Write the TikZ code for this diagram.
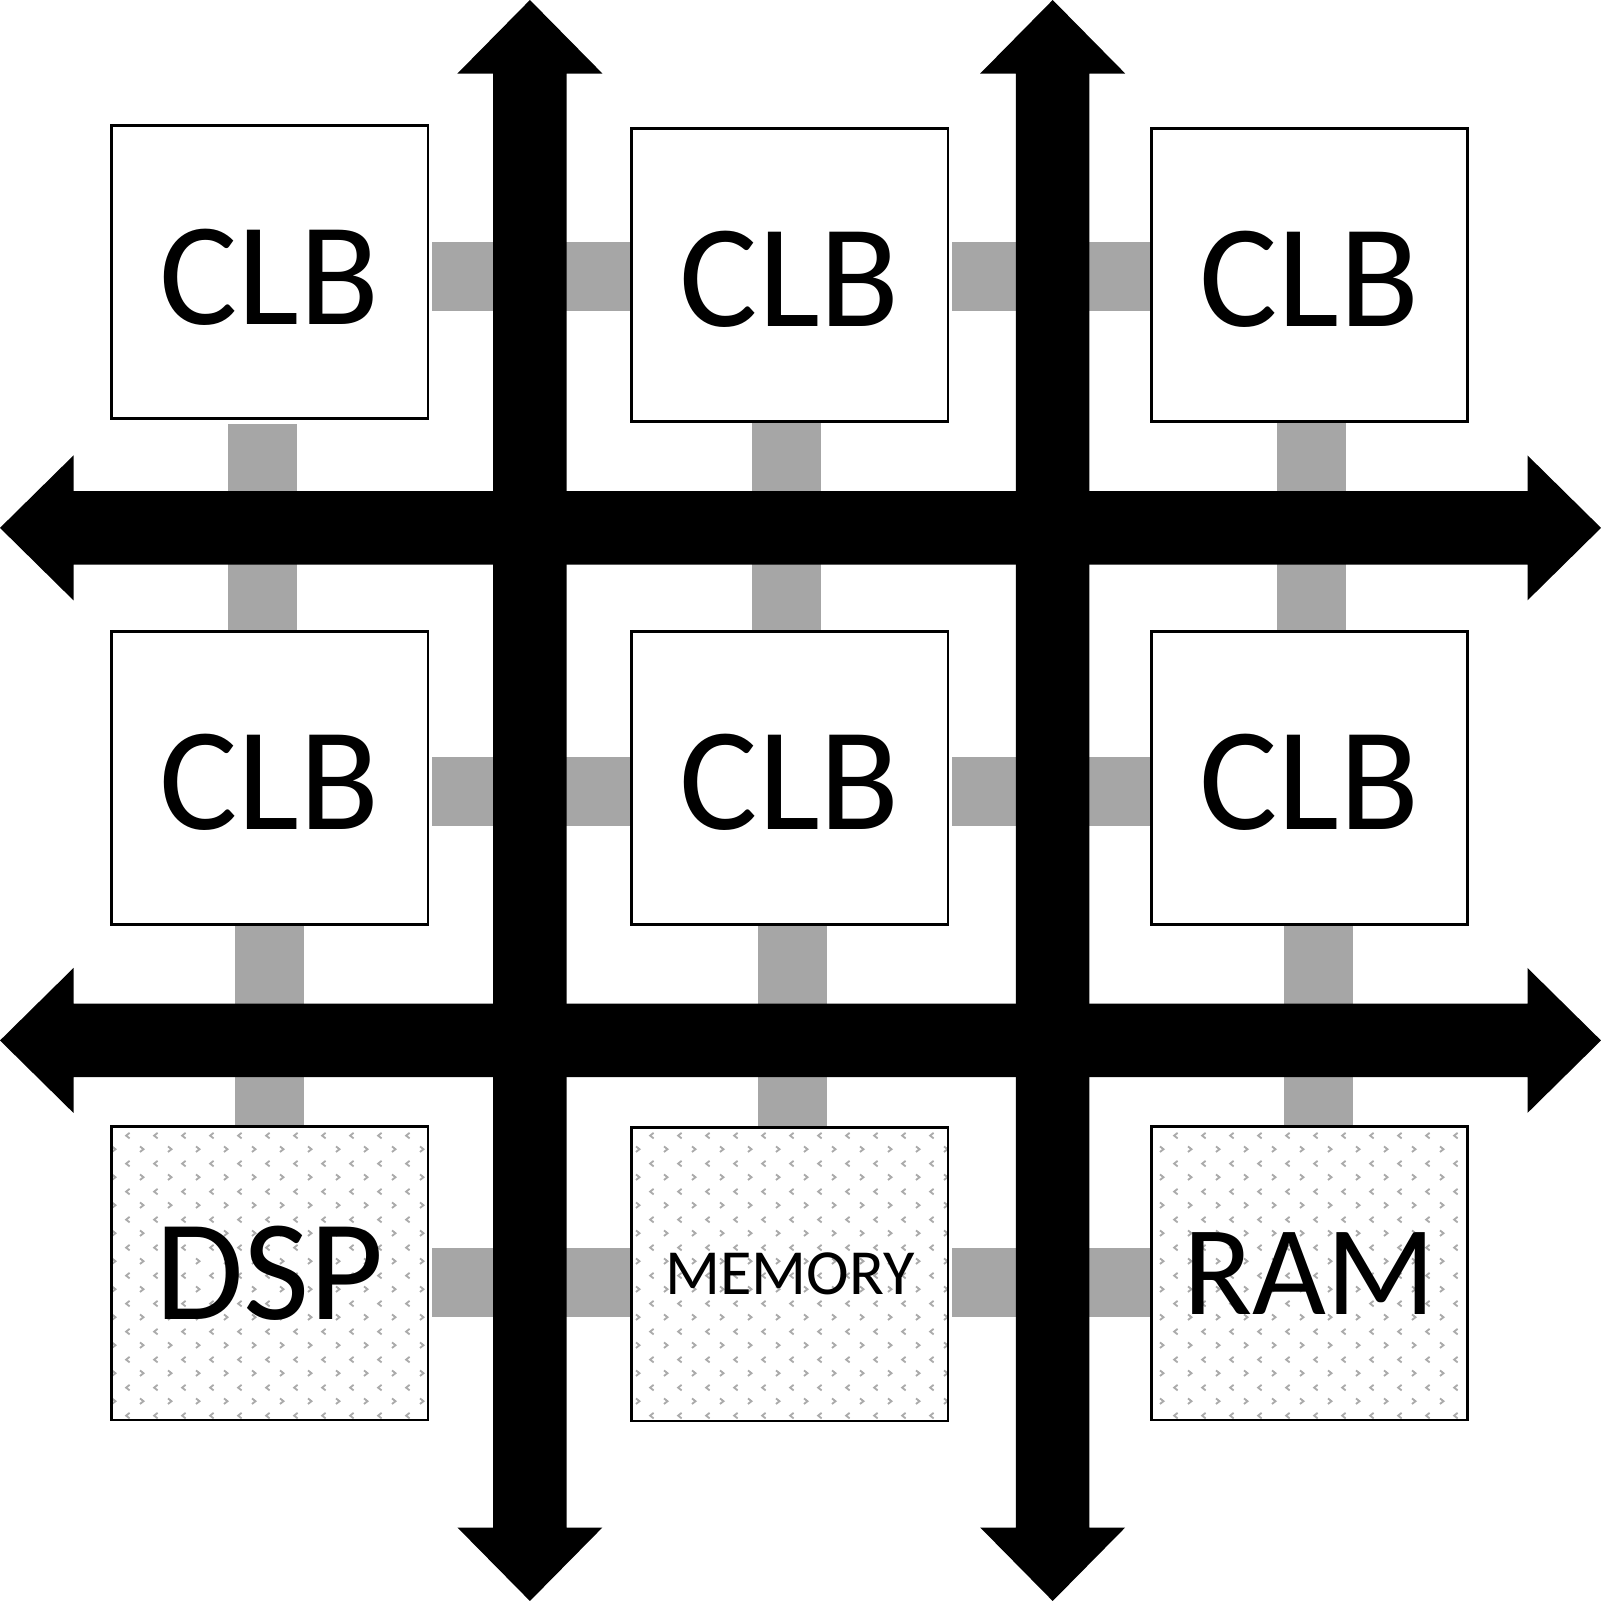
\documentclass[tikz,border=0pt]{standalone}
\usepackage{fontspec}
\setmainfont{Carlito}
\usetikzlibrary{patterns,calc}
\definecolor{busgray}{HTML}{A6A6A6}
\definecolor{patgray}{HTML}{ABABAB}
\pgfdeclarepatternformonly{chevrons}{\pgfpointorigin}{\pgfpoint{27pt}{27pt}}{\pgfpoint{27pt}{27pt}}{%
  \pgfsetlinewidth{1.8pt}%
  \pgfpathmoveto{\pgfpoint{19.5pt}{23pt}}\pgfpathlineto{\pgfpoint{16pt}{20.25pt}}\pgfpathlineto{\pgfpoint{19.5pt}{17.5pt}}%
  \pgfpathmoveto{\pgfpoint{2pt}{9.5pt}}\pgfpathlineto{\pgfpoint{5.5pt}{6.75pt}}\pgfpathlineto{\pgfpoint{2pt}{4pt}}%
  \pgfusepath{stroke}%
}
\pgfdeclarelayer{bg}
\pgfsetlayers{bg,main}
\newcommand\lowtext[2]{\raisebox{-#1}[\height][\depth]{#2}}
\tikzset{
  blk/.style={draw, line width=2.5pt, fill=white, minimum width=310pt, minimum height=287pt, inner sep=0pt},
  clb/.style={blk, font=\fontsize{144}{144}\selectfont},
  special/.style={blk, preaction={fill=white}, pattern=chevrons, pattern color=patgray},
  bus/.style={draw=busgray, line width=67.5pt},
  bigarrow/.style={fill=black, draw=none}
}
\begin{document}
\begin{tikzpicture}[x=1pt,y=-1pt]
\useasboundingbox (0,0) rectangle (1568,1568);
% blocks
\node[clb] (c1) at (264,266.5) {\lowtext{5pt}{CLB}};
\node[clb] (c2) at (773.5,269.5) {\lowtext{4pt}{CLB}};
\node[clb] (c3) at (1282.5,269.5) {\lowtext{4pt}{CLB}};
\node[clb] (c4) at (264,762) {\lowtext{4pt}{CLB}};
\node[clb] (c5) at (773.5,762) {\lowtext{4pt}{CLB}};
\node[clb] (c6) at (1282.5,762) {\lowtext{4pt}{CLB}};
\node[special, font=\fontsize{141}{141}\selectfont] (c7) at (264,1247) {DSP};
\node[special, font=\fontsize{63}{63}\selectfont] (c8) at (773.5,1248) {MEMORY};
\node[special, font=\fontsize{125}{125}\selectfont] (c9) at (1282.5,1247) {RAM};
\begin{pgfonlayer}{bg}
% horizontal gray links
\draw[bus] ($(c1.east)+(3,4)$) -- ($(c2.west)+(0,1)$);
\draw[bus] ($(c2.east)+(3,1)$) -- ($(c3.west)+(0,1)$);
\draw[bus] ($(c4.east)+(3,13.5)$) -- ($(c5.west)+(0,13.5)$);
\draw[bus] ($(c5.east)+(3,13.5)$) -- ($(c6.west)+(0,13.5)$);
\draw[bus] ($(c7.east)+(3,9)$) -- ($(c8.west)+(0,8)$);
\draw[bus] ($(c8.east)+(3,8)$) -- ($(c9.west)+(0,9)$);
% vertical gray links
\draw[bus] ($(c1.south)+(-7,4)$) -- ($(c4.north)+(-7,0)$);
\draw[bus] ($(c2.south)+(-3.5,0)$) -- ($(c5.north)+(-3.5,0)$);
\draw[bus] ($(c3.south)+(1.5,0)$) -- ($(c6.north)+(1.5,0)$);
\draw[bus] ($(c4.south)+(-0.5,0)$) -- ($(c7.north)+(-0.5,0)$);
\draw[bus] ($(c5.south)+(2.5,0)$) -- ($(c8.north)+(2.5,0)$);
\draw[bus] ($(c6.south)+(8.5,0)$) -- ($(c9.north)+(8.5,0)$);
% routing arrows (vertical)
\foreach \cx in {519,1031}{
  \fill[bigarrow] (\cx,0) -- (\cx+71,72) -- (\cx+36,72) -- (\cx+36,1496) -- (\cx+71,1496)
    -- (\cx,1568) -- (\cx-71,1496) -- (\cx-36,1496) -- (\cx-36,72) -- (\cx-71,72) -- cycle;
}
% routing arrows (horizontal)
\foreach \cy in {517,1019}{
  \fill[bigarrow] (0,\cy) -- (72,\cy-71) -- (72,\cy-36) -- (1496,\cy-36) -- (1496,\cy-71)
    -- (1568,\cy) -- (1496,\cy+71) -- (1496,\cy+36) -- (72,\cy+36) -- (72,\cy+71) -- cycle;
}
\end{pgfonlayer}
\end{tikzpicture}
\end{document}
